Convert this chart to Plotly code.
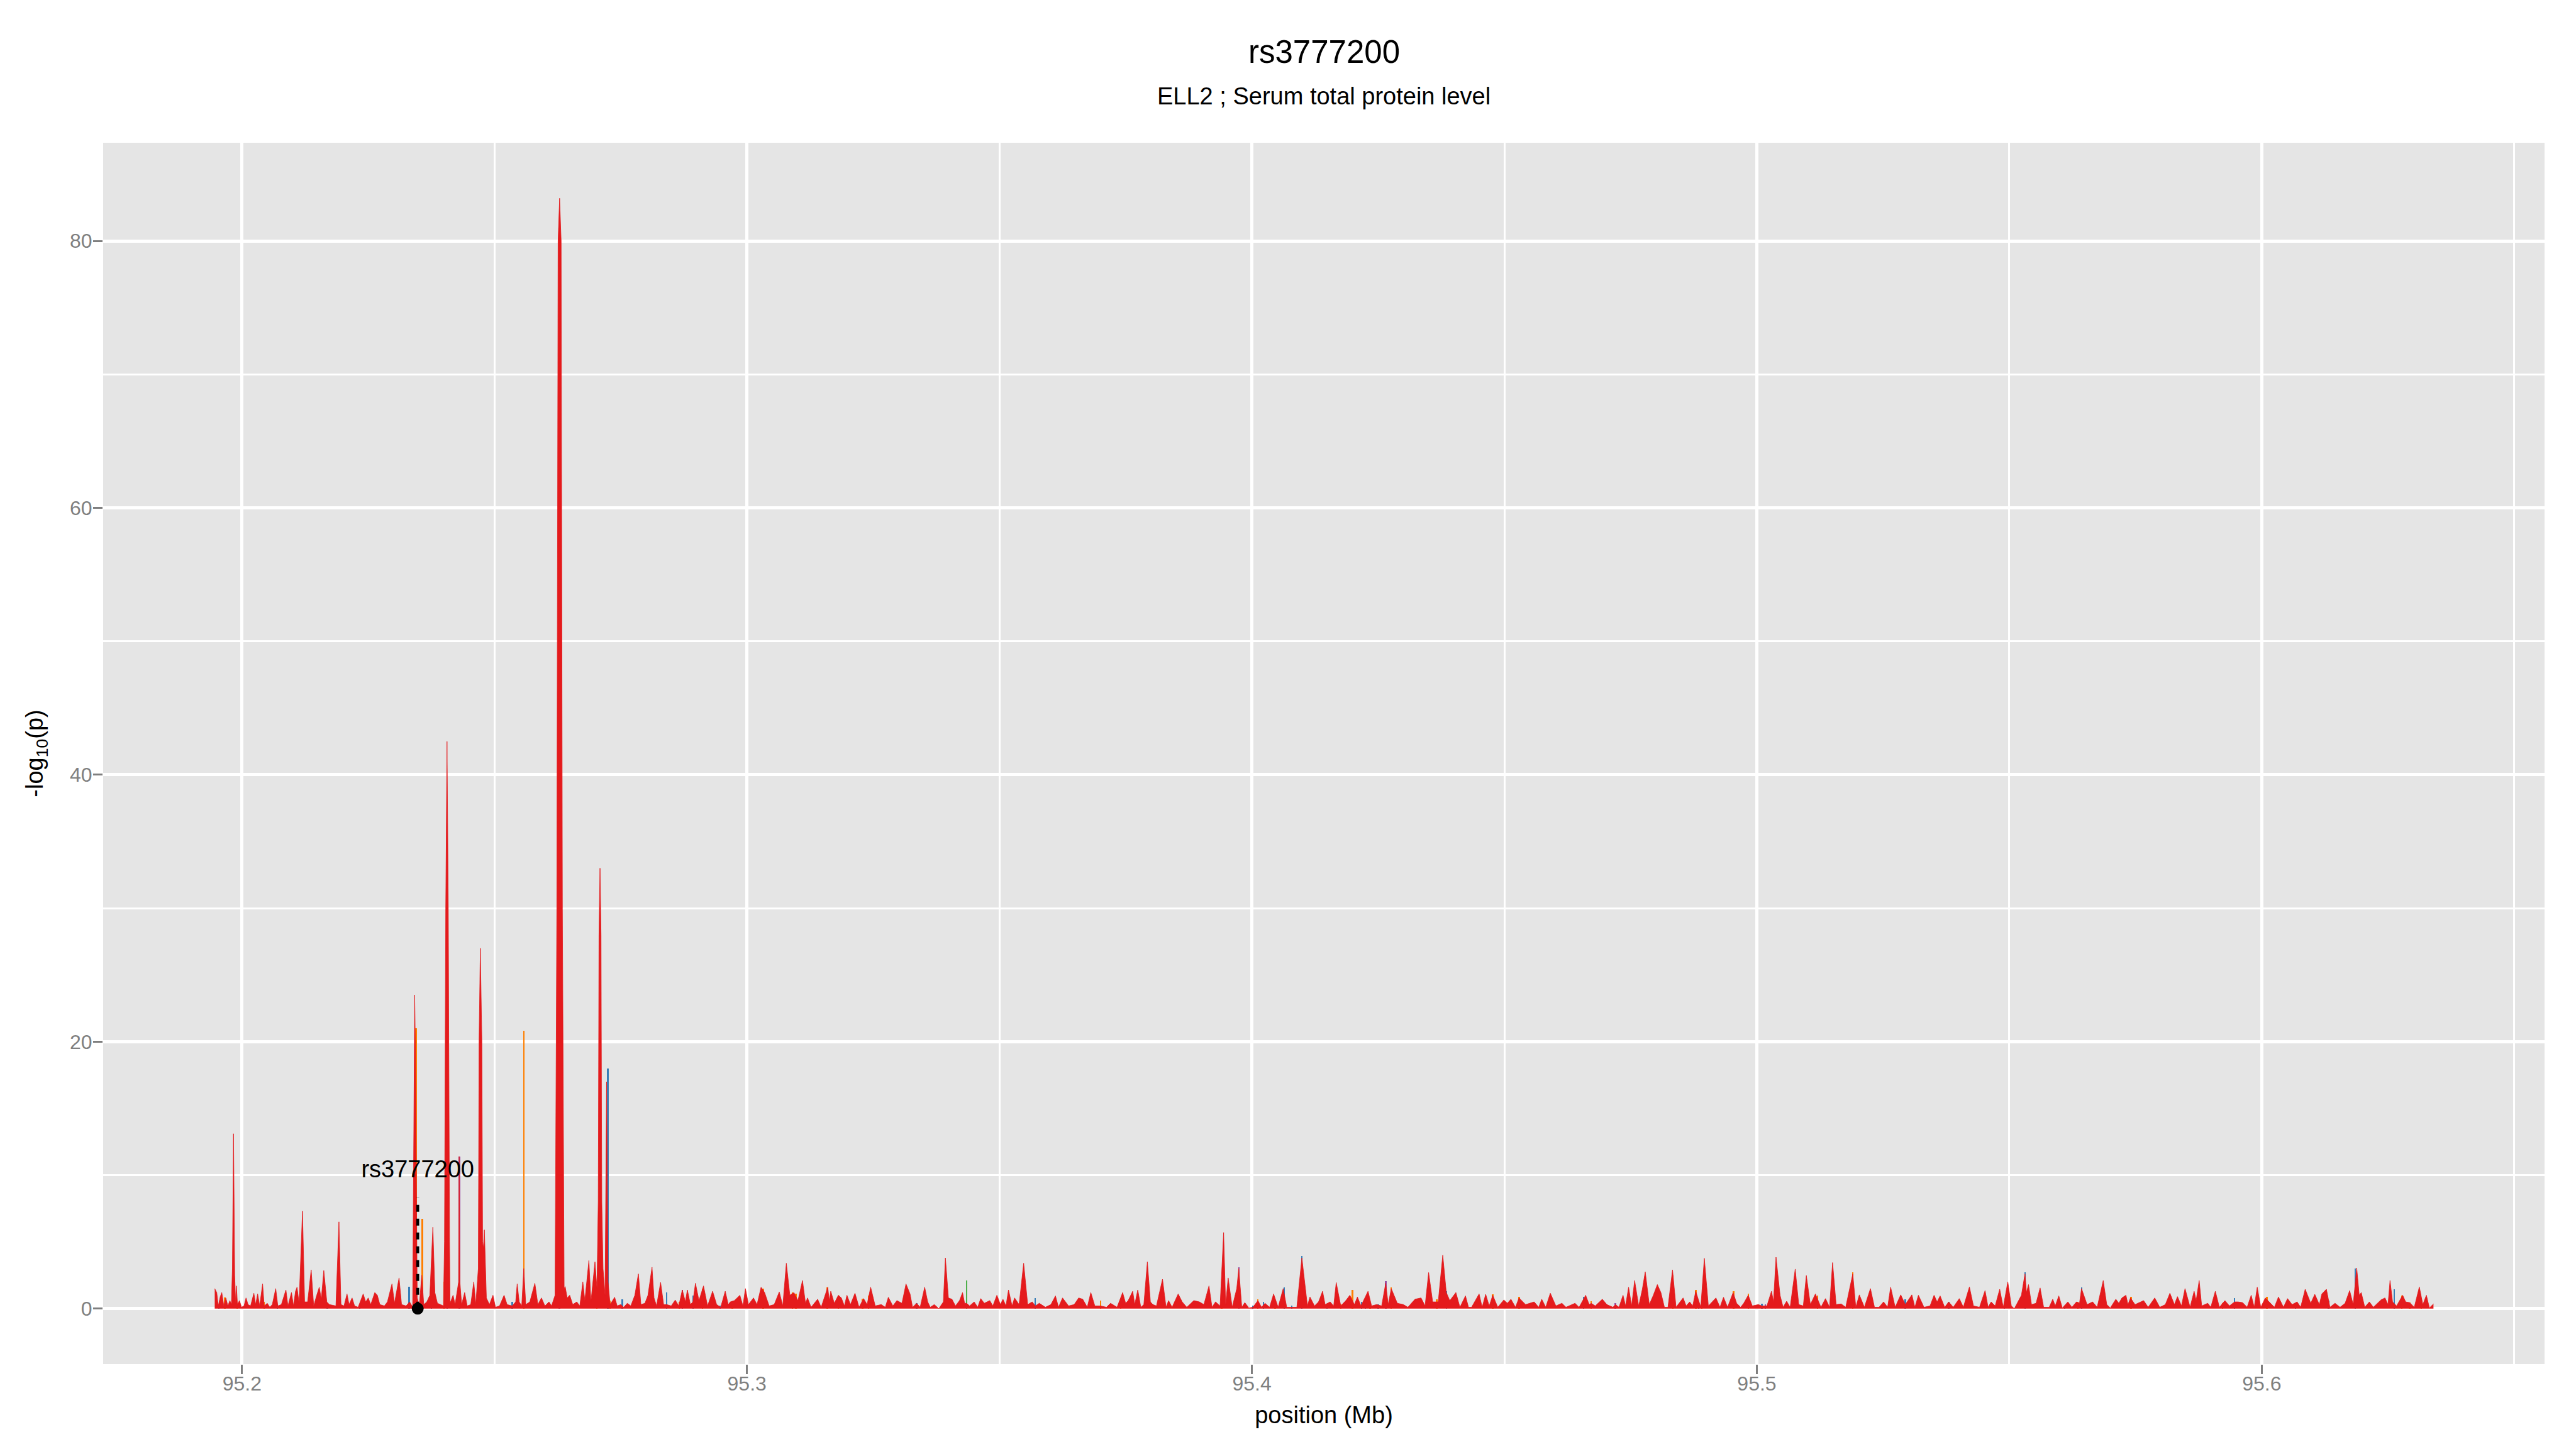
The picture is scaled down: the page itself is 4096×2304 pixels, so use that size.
import plotly.graph_objects as go

# ---------------- data ----------------
TITLE = "rs3777200"
SUBTITLE = "ELL2 ; Serum total protein level"
X_TITLE = "position (Mb)"
Y_TITLE = "-log<sub>10</sub>(p)"

KB0 = 95200.0  # kb offsets below are relative to 95.2 Mb

# main (red) association track: position offset (kb) and -log10(p)
red_kb_a = [-5.4, -5.0, -4.7, -4.3, -4.0, -3.6, -3.2, -2.8, -2.4, -2.1,
            -1.9, -1.68, -1.45, -1.25, -1.1, -0.9, -0.5, -0.1, 0.4, 0.8,
            1.2, 1.7, 2.35, 2.7, 3.1, 3.5, 4.08, 4.4, 5.0, 5.5,
            6.0, 6.68, 7.1, 7.8, 8.7, 9.1, 9.8, 10.2, 10.6, 10.9,
            11.3, 11.98, 12.4, 13.0, 13.7, 14.2, 14.8, 15.3, 15.7, 16.2,
            16.8, 17.3, 18.6, 19.2, 19.6, 20.2, 20.8, 21.2, 21.8, 22.3,
            23.0, 24.0, 24.5, 25.0, 25.5, 26.3, 26.8, 27.3, 28.2, 28.8,
            29.7, 30.2, 31.1, 31.6, 32.5, 33.2, 33.8, 33.95, 34.07, 34.2, 34.35, 34.5,
            34.7, 35.1, 35.6, 36.0, 36.6, 37.2, 37.8, 38.2, 38.7, 39.3,
            39.9, 40.1, 40.35, 40.6, 40.85, 41.1, 41.2, 41.8, 42.2, 42.9, 43.0, 43.15,
            43.5, 44.1, 44.6, 45.3, 45.9, 46.3, 46.8, 46.95, 47.2, 47.5, 47.65, 47.8,
            48.0, 48.4, 49.0, 49.7, 50.2, 51.0, 51.9, 52.5, 53.5, 54.2,
            54.5, 54.9, 55.4, 55.8, 56.2, 57.0, 58.0, 58.6, 59.3, 60.0,
            60.8, 61.3, 62.0, 62.35, 62.6, 62.9, 63.2, 63.45, 63.8, 64.0,
            64.4, 64.9, 65.5, 66.3, 66.9, 67.5, 67.9, 68.7, 69.1, 69.9,
            70.3, 70.55, 70.7, 70.9, 71.1, 71.25, 71.5, 71.9, 72.2, 72.5, 72.9, 73.8,
            74.3, 75.0, 75.6, 76.3, 77.0, 77.8, 78.5, 79.0, 79.8, 80.4,
            81.2, 81.6, 82.1]
red_val_a = [1.5, 1.2, 0.2, 0.9, 1.2, 0.2, 0.8, 0.2, 0.6, 0.3,
             3.0, 13.1, 2.5, 0.4, 1.7, 0.3, 0.6, 0.1, 0.2, 0.8,
             0.3, 0.2, 1.15, 0.3, 1.1, 0.2, 1.85, 0.2, 0.4, 0.1,
             0.3, 1.5, 0.2, 0.3, 1.4, 0.2, 1.2, 0.2, 1.3, 1.6,
             0.4, 7.3, 0.5, 0.5, 2.9, 0.2, 1.0, 1.6, 0.7, 2.85,
             0.5, 0.3, 0.2, 6.5, 0.3, 0.2, 1.1, 0.3, 0.8, 0.2,
             0.1, 1.1, 0.5, 0.8, 0.3, 1.2, 1.0, 0.3, 0.2, 0.5,
             1.85, 0.4, 2.3, 0.3, 0.2, 0.5, 0.1, 10.0, 19.0, 23.5, 19.0, 10.0,
             0.8, 0.2, 2.5, 0.3, 0.5, 1.0, 6.1, 1.2, 0.4, 0.3,
             0.2, 5.0, 30.0, 42.5, 30.0, 5.0, 0.4, 1.0, 0.3, 2.0, 11.4, 2.0,
             0.3, 1.2, 0.2, 0.3, 2.0, 0.3, 3.0, 20.0, 27.0, 20.0, 5.0, 4.5,
             5.9, 0.8, 0.3, 1.0, 0.1, 0.2, 1.0, 0.3, 0.2, 0.5,
             1.85, 0.5, 0.2, 3.0, 0.3, 0.5, 1.9, 0.3, 0.8, 0.2,
             0.5, 0.2, 1.0, 30.0, 80.0, 83.2, 80.0, 30.0, 1.5, 1.65,
             0.8, 1.0, 0.3, 0.5, 0.2, 2.0, 0.6, 3.6, 0.5, 3.5,
             1.5, 8.0, 28.0, 33.0, 28.0, 8.0, 3.0, 1.0, 17.0, 2.0, 0.3, 0.85,
             0.2, 0.3, 0.1, 0.4, 0.2, 1.0, 2.6, 0.3, 0.4, 1.0,
             3.1, 0.8, 0.2]

red_kb_b = [82.9, 83.5, 84.1, 85.0, 85.8, 86.5, 87.2, 87.8, 88.2, 88.8,
            89.3, 89.8, 90.5, 91.4, 92.2, 93.2, 94.0, 94.8, 95.7, 96.3,
            96.7, 97.5, 98.6, 99.2, 99.7, 100.3, 101.3, 102.0, 102.8, 103.5,
            104.4, 105.4, 106.4, 107.1, 107.8, 108.5, 109.3, 110.1, 111.0, 111.6,
            112.0, 112.7, 114.0, 114.7, 116.0, 116.3, 116.6, 117.3, 118.1, 118.7,
            119.3, 119.8, 120.5, 121.4, 122.2, 123.1, 123.8, 124.5, 125.4, 126.6,
            127.4, 128.0, 128.9, 129.7, 130.7, 131.5, 132.3, 132.8, 133.6, 134.3,
            135.2, 135.8, 136.3, 137.1, 138.0, 138.9, 139.3, 139.9, 140.6, 141.3,
            142.1, 142.7, 143.1, 143.5, 144.1, 145.0, 145.7, 146.3, 147.0, 148.1,
            148.7, 149.5, 150.2, 150.7, 151.3, 151.8, 152.5, 153.0, 153.9, 154.8,
            155.6, 156.5, 157.1, 157.9, 159.1, 160.2, 161.1, 161.7, 162.5, 163.7,
            164.8, 165.7, 166.5, 167.4, 168.1, 168.9, 170.0, 171.2, 172.0]
red_val_b = [1.96, 0.3, 0.3, 0.2, 0.64, 0.2, 1.4, 0.5, 1.4, 0.3,
             0.5, 1.9, 0.6, 1.7, 0.2, 1.3, 0.3, 0.1, 1.3, 0.3,
             0.5, 0.6, 1.0, 0.2, 1.5, 0.3, 0.8, 0.3, 1.6, 1.2,
             0.2, 0.3, 1.25, 0.2, 3.4, 1.0, 1.2, 0.6, 2.1, 0.4,
             0.8, 0.1, 0.7, 0.1, 1.6, 0.6, 1.3, 0.4, 1.0, 0.8,
             0.2, 1.0, 0.3, 1.15, 0.1, 0.75, 0.3, 1.6, 0.2, 0.3,
             0.1, 0.85, 0.2, 0.6, 0.4, 1.85, 1.1, 0.1, 0.4, 0.1,
             1.6, 0.5, 0.1, 0.3, 0.0, 0.5, 3.8, 0.8, 0.7, 0.2,
             0.6, 1.2, 0.4, 0.4, 0.2, 0.5, 0.1, 0.75, 0.4, 0.6,
             0.2, 1.0, 0.3, 0.7, 0.2, 1.4, 0.2, 0.8, 0.3, 3.4,
             0.3, 0.5, 0.2, 0.4, 0.1, 0.3, 0.95, 0.1, 0.8, 0.2,
             0.3, 0.8, 0.7, 0.1, 1.2, 0.2, 0.2, 0.1, 0.4]

red_kb_c = [173.3, 174.4, 175.0, 175.5, 176.4, 176.8, 177.4, 178.0, 178.6, 179.3,
            179.9, 180.4, 181.1, 182.3, 183.0, 183.5, 184.2, 185.4, 186.2, 187.1,
            188.5, 189.6, 190.5, 191.0, 191.5, 192.1, 192.8, 193.7, 194.4, 194.8,
            195.3, 196.1, 197.0, 197.4, 198.0, 198.6, 199.4, 200.2, 201.2, 201.9,
            202.6, 203.5, 204.3, 205.2, 206.2, 206.9, 208.1, 208.9, 209.9, 211.0,
            211.5, 212.4, 213.2, 214.0, 214.5, 215.5, 216.2, 216.7, 217.6, 218.6,
            219.4, 220.3, 220.9, 221.6, 223.0, 223.7, 224.7, 225.7, 226.5, 227.0,
            227.6, 228.3, 228.8, 230.0, 230.9, 232.3, 233.5, 234.3, 235.0, 235.8,
            236.9, 237.8, 238.5, 239.2, 240.4, 241.2, 242.3, 242.9, 243.5, 245.0,
            245.6, 246.3, 247.0, 247.7, 248.7, 249.9, 250.6, 251.3, 252.2, 252.9,
            254.2, 255.9, 256.8, 257.4, 258.2, 259.1, 260.2, 261.4]
red_val_c = [0.1, 1.2, 0.4, 0.6, 1.3, 0.3, 1.4, 0.1, 0.3, 3.5,
             0.5, 0.3, 0.2, 2.2, 0.1, 0.6, 0.1, 1.1, 0.5, 0.1,
             0.6, 0.5, 0.3, 1.0, 1.7, 0.1, 0.5, 0.2, 5.7, 0.3,
             2.3, 0.1, 1.5, 3.0, 0.1, 0.45, 0.05, 0.1, 0.6, 0.1,
             0.4, 0.1, 1.1, 0.1, 1.5, 0.1, 0.1, 0.1, 3.8, 0.2,
             0.87, 0.2, 0.5, 1.3, 0.3, 0.5, 0.2, 1.95, 0.2, 0.6,
             1.0, 0.3, 0.87, 0.2, 1.3, 0.2, 0.3, 0.2, 1.9, 0.3,
             1.5, 0.9, 0.4, 0.3, 0.1, 0.7, 0.8, 0.2, 2.7, 0.5,
             0.5, 4.0, 1.2, 0.6, 1.2, 0.1, 0.95, 0.1, 0.1, 1.1,
             0.1, 1.07, 0.2, 1.0, 0.1, 0.65, 0.4, 0.7, 0.1, 0.8,
             0.3, 0.5, 0.1, 0.7, 0.1, 1.15, 0.2, 0.4]

red_kb_d = [262.2, 264.0, 264.8, 266.1, 266.8, 267.2, 268.0, 269.4, 270.3, 271.5,
            272.0, 272.7, 273.5, 274.0, 274.6, 275.2, 275.8, 276.6, 277.3, 277.9,
            278.7, 279.5, 280.3, 281.0, 281.7, 282.4, 283.3, 284.0, 285.4, 286.0,
            286.7, 287.3, 287.9, 288.9, 289.6, 290.4, 291.9, 292.7, 293.4, 294.2,
            295.3, 296.0, 296.8, 297.4, 298.3, 299.1, 300.3, 301.0, 302.0, 302.9,
            303.3, 303.8, 304.6, 305.2, 305.9, 306.6, 307.6, 308.3, 309.2, 309.8,
            310.6, 311.6, 312.7, 313.6, 314.4, 315.0, 315.7, 316.7, 317.6, 319.0,
            319.6, 320.3, 321.3, 322.5, 323.3, 324.2, 325.1, 325.9, 326.5, 327.4,
            328.5, 329.4, 330.7, 331.3, 332.0, 333.1, 334.3, 335.1, 335.7, 336.3,
            337.2, 338.0, 338.9, 340.1, 340.9, 342.1, 342.9, 344.1, 345.2, 345.8,
            346.4, 347.2, 348.1, 348.8, 349.7, 350.4]
red_val_d = [0.1, 0.4, 0.1, 1.0, 0.3, 0.4, 0.2, 0.7, 0.3, 0.1,
             0.3, 0.1, 1.0, 0.2, 1.6, 0.2, 2.1, 0.2, 1.4, 2.75,
             0.3, 1.0, 1.8, 1.2, 0.1, 0.1, 2.9, 0.1, 0.8, 0.2,
             0.5, 0.2, 1.3, 0.1, 3.77, 0.2, 0.8, 0.1, 0.85, 0.1,
             1.2, 0.4, 0.1, 0.4, 1.0, 0.2, 0.3, 0.2, 0.2, 1.3,
             0.5, 3.85, 1.0, 0.1, 0.55, 0.1, 2.96, 0.3, 0.2, 2.48,
             0.3, 1.1, 0.1, 0.75, 0.1, 3.45, 0.3, 0.35, 0.1, 2.6,
             0.1, 1.03, 0.1, 1.5, 0.1, 0.1, 0.5, 0.1, 1.6, 0.1,
             1.03, 0.3, 1.03, 0.1, 1.0, 0.1, 0.2, 1.0, 0.5, 0.95,
             0.1, 0.5, 0.1, 0.75, 0.1, 1.62, 0.2, 0.1, 1.35, 0.1,
             0.5, 0.2, 1.45, 0.1, 2.0, 0.2]

red_kb_e = [351.0, 352.4, 353.1, 353.4, 353.8, 354.4, 355.3, 356.1, 356.8, 357.9,
            358.6, 359.1, 359.8, 360.5, 361.6, 362.4, 363.3, 363.9, 364.3, 365.4,
            366.5, 367.4, 368.6, 369.3, 370.0, 371.1, 371.7, 372.3, 373.1, 373.5,
            374.0, 374.9, 376.6, 377.5, 378.8, 379.8, 380.9, 381.8, 382.7, 383.3,
            384.1, 384.8, 385.8, 386.6, 387.0, 387.6, 388.1, 389.3, 389.9, 390.8,
            391.6, 392.7, 393.6, 394.6, 395.3, 396.2, 397.1, 397.9, 398.5, 399.1,
            399.8, 400.7, 401.7, 402.5, 403.3, 404.3, 405.1, 406.0, 407.0, 407.7,
            408.6, 409.7, 410.5, 411.4, 411.9, 412.8, 413.5, 414.5, 415.5, 416.5,
            417.4, 418.1, 418.8, 419.3, 419.7, 420.4, 421.3, 422.1, 423.6, 424.4,
            425.0, 425.4, 425.9, 426.7, 427.9, 428.5, 429.3, 430.2, 431.2, 431.9,
            432.6, 433.2, 434.0]
red_val_e = [0.0, 1.0, 2.6, 1.2, 1.8, 0.3, 0.4, 1.55, 0.1, 0.1,
             0.7, 0.2, 0.95, 0.05, 0.5, 0.1, 0.5, 0.4, 1.5, 0.3,
             0.5, 0.1, 2.1, 0.3, 0.05, 0.7, 0.4, 0.8, 1.0, 0.3,
             0.8, 0.3, 0.6, 0.1, 0.8, 0.1, 0.3, 1.15, 0.3, 0.9,
             0.2, 1.5, 0.1, 1.3, 0.6, 2.1, 0.2, 0.4, 0.1, 1.3,
             0.1, 0.6, 0.2, 0.5, 0.5, 0.45, 0.1, 1.0, 0.1, 1.6,
             0.1, 0.8, 0.4, 0.1, 0.87, 0.1, 0.75, 0.3, 0.5, 0.1,
             1.45, 0.4, 1.07, 0.3, 1.1, 1.45, 0.1, 0.4, 0.1, 0.4,
             1.35, 0.3, 3.05, 1.0, 1.2, 0.1, 0.5, 0.1, 0.65, 0.8,
             0.3, 2.1, 0.5, 0.2, 1.0, 0.5, 0.45, 0.1, 1.62, 0.3,
             1.0, 0.05, 0.35]

# other coloured tracks (narrow spikes)
orange_kb = [-3.4, -1.0, 4.4, 34.45, 35.7, 40.0, 55.8, 70.3, 72.9, 86.6,
             91.2, 97.1, 103.2, 109.0, 109.7, 115.9, 118.1, 122.9, 124.1, 170.0,
             174.0, 194.0, 201.2, 204.6, 217.6, 219.9, 223.4, 227.6, 236.6, 247.7,
             252.9, 267.2, 283.4, 287.9, 289.1, 295.4, 298.3, 312.0, 319.0, 363.6,
             374.1, 392.2, 401.0, 427.7, 429.3, 431.6]
orange_val = [0.85, 0.3, 0.5, 21.0, 6.75, 2.0, 20.8, 1.5, 0.6, 0.5,
              1.5, 0.5, 1.5, 1.2, 1.1, 1.6, 1.0, 0.75, 1.0, 0.6,
              0.3, 1.6, 0.7, 0.2, 0.3, 1.4, 0.4, 1.6, 0.7, 1.07,
              0.9, 0.55, 2.5, 1.4, 0.6, 1.3, 1.1, 1.0, 2.7, 0.5,
              0.9, 0.4, 0.9, 1.0, 0.45, 0.8]

blue_kb = [-4.6, 7.0, 16.9, 23.3, 33.1, 37.5, 53.5, 72.45, 75.3, 84.1,
           89.3, 94.7, 133.6, 157.1, 200.2, 202.3, 206.4, 207.9, 209.9, 214.9,
           221.7, 222.5, 225.0, 238.5, 265.7, 288.5, 301.0, 329.4, 338.0, 353.1,
           361.0, 364.3, 394.6, 406.7, 413.2, 418.5, 426.2]
blue_val = [0.3, 0.3, 0.2, 0.2, 1.65, 0.3, 0.5, 18.0, 0.7, 1.2,
            1.0, 0.2, 0.4, 0.8, 0.2, 0.5, 1.6, 0.2, 3.95, 0.3,
            0.5, 0.8, 0.3, 1.3, 0.87, 0.3, 0.35, 0.7, 0.5, 2.7,
            0.2, 1.6, 0.8, 0.3, 0.6, 3.0, 1.45]

purple_kb = [40.65, 43.05, 62.88, 87.2, 197.4, 226.5, 272.0, 301.7, 349.0]
purple_val = [32.0, 11.4, 81.0, 1.4, 3.1, 2.05, 0.4, 0.3, 0.2]

green_kb = [143.5]
green_val = [2.1]

# highlighted SNP
snp_name = "rs3777200"
snp_kb = 34.8
snp_top = 8.3
snp_label_y = 10.3

x_tick_vals = [95.2, 95.3, 95.4, 95.5, 95.6]
y_tick_vals = [0, 20, 40, 60, 80]

# ---------------- build ----------------
red_kb = red_kb_a + red_kb_b + red_kb_c + red_kb_d + red_kb_e
red_val = red_val_a + red_val_b + red_val_c + red_val_d + red_val_e
for a, b, n in [(red_kb_a, red_val_a, "a"), (red_kb_b, red_val_b, "b"),
                (red_kb_c, red_val_c, "c"), (red_kb_d, red_val_d, "d"),
                (red_kb_e, red_val_e, "e"), (orange_kb, orange_val, "o"),
                (blue_kb, blue_val, "bl"), (purple_kb, purple_val, "p")]:
    if len(a) != len(b):
        raise ValueError(f"length mismatch {n}: {len(a)} vs {len(b)}")


def to_mb(kb_list):
    return [(KB0 + k) / 1000.0 for k in kb_list]


FONT = "Liberation Sans, Arial, Helvetica, sans-serif"
GREY = "#7F7F7F"
RED = "#E41A1C"

fig = go.Figure()

fig.add_trace(go.Scatter(
    x=to_mb(red_kb), y=red_val, mode="lines", fill="tozeroy",
    line=dict(color="rgba(228,26,28,0.85)", width=1),
    fillcolor=RED, hoverinfo="x+y", showlegend=False))

BAR_W = 0.0003
for kbs, vals, col in [(orange_kb, orange_val, "#FF7F00"),
                       (blue_kb, blue_val, "#377EB8"),
                       (purple_kb, purple_val, "#984EA3"),
                       (green_kb, green_val, "#4DAF4A")]:
    fig.add_trace(go.Bar(
        x=to_mb(kbs), y=vals, width=[BAR_W] * len(kbs),
        marker=dict(color=col, line=dict(width=0)),
        showlegend=False))

snp_x = to_mb([snp_kb])[0]
fig.add_trace(go.Scatter(
    x=[snp_x, snp_x], y=[0, snp_top], mode="lines",
    line=dict(color="black", width=4.6, dash="11px,11px"),
    showlegend=False))
fig.add_trace(go.Scatter(
    x=[snp_x], y=[0], mode="markers",
    marker=dict(color="black", size=19, line=dict(width=0)),
    showlegend=False))
fig.add_trace(go.Scatter(
    x=[snp_x], y=[snp_label_y], mode="text", text=[snp_name],
    textposition="middle center",
    textfont=dict(family=FONT, size=38, color="black"),
    showlegend=False))

# ---------------- layout ----------------
# page body has an 8px margin: figure is 16px smaller than the window
fig.update_layout(
    width=4080, height=2288,
    margin=dict(l=156, r=42, t=219, b=127, autoexpand=False),
    paper_bgcolor="white", plot_bgcolor="#E5E5E5",
    barmode="overlay", bargap=0,
    font=dict(family=FONT, color="black"),
    showlegend=False,
)
fig.update_xaxes(
    range=[95.1725, 95.656], tickvals=x_tick_vals,
    ticktext=[f"{v:.1f}" for v in x_tick_vals],
    ticks="outside", ticklen=15, tickwidth=3.4, tickcolor=GREY,
    ticklabelstandoff=-12,
    tickfont=dict(family=FONT, size=32, color=GREY),
    showgrid=True, gridcolor="white", gridwidth=4.6,
    minor=dict(dtick=0.05, tick0=95.2, showgrid=True, gridcolor="white",
               gridwidth=2.6, ticks=""),
    zeroline=False, showline=False,
    title=dict(text=X_TITLE, standoff=18,
               font=dict(family=FONT, size=38, color="black")),
)
fig.update_yaxes(
    range=[-4.16, 87.36], tickvals=y_tick_vals,
    ticks="outside", ticklen=15, tickwidth=3.4, tickcolor=GREY,
    ticklabelstandoff=-5,
    tickfont=dict(family=FONT, size=32, color=GREY),
    showgrid=True, gridcolor="white", gridwidth=4.6,
    minor=dict(dtick=10, tick0=0, showgrid=True, gridcolor="white",
               gridwidth=2.6, ticks=""),
    zeroline=False, showline=False,
    title=dict(text=Y_TITLE, standoff=30,
               font=dict(family=FONT, size=38, color="black")),
)

fig.add_annotation(text=TITLE, xref="paper", yref="paper", x=0.5, y=1.0744,
                   xanchor="center", yanchor="middle", showarrow=False,
                   font=dict(family=FONT, size=51, color="black"))
fig.add_annotation(text=SUBTITLE, xref="paper", yref="paper", x=0.5, y=1.0381,
                   xanchor="center", yanchor="middle", showarrow=False,
                   font=dict(family=FONT, size=38, color="black"))

fig.write_html("out.html")
